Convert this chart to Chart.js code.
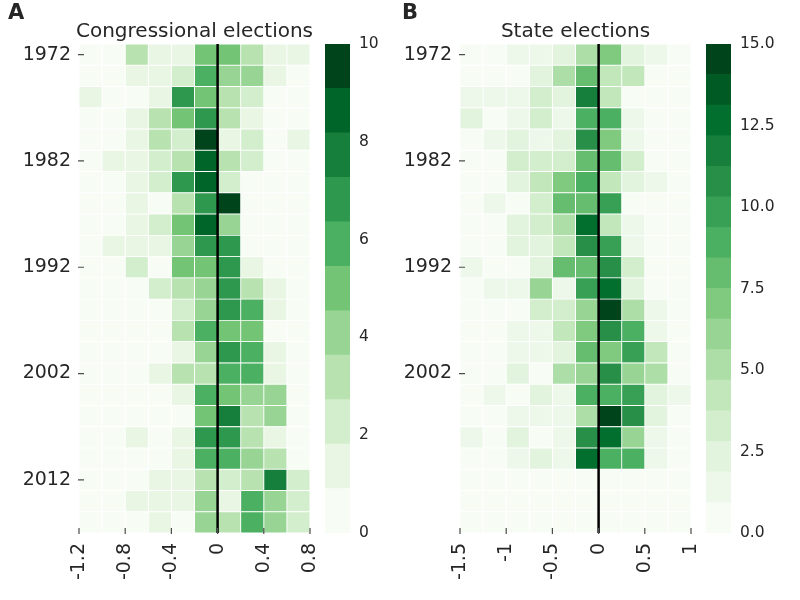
<!DOCTYPE html>
<html>
<head>
<meta charset="utf-8">
<script src="https://cdn.jsdelivr.net/npm/chart.js@4.4.0/dist/chart.umd.min.js"></script>
<style>
  body { margin: 0; background: #fff; }
  #wrap { position: relative; width: 800px; height: 600px; overflow: hidden; }
  #wrap canvas { position: absolute; top: 0; }
</style>
</head>
<body>
<div id="wrap">
  <canvas id="congress" width="320" height="600" style="left:0px"></canvas>
  <canvas id="congress-cb" width="70" height="600" style="left:325px"></canvas>
  <canvas id="state" width="320" height="600" style="left:381px"></canvas>
  <canvas id="state-cb" width="94" height="600" style="left:706px"></canvas>
</div>
<script>
// Rows (years), top to bottom
const years = [1972, 1974, 1976, 1978, 1980, 1982, 1984, 1986, 1988, 1990, 1992, 1994,
  1996, 1998, 2000, 2002, 2004, 2006, 2008, 2010, 2012, 2014, 2016];

// Column bin edges and tick labels
const congressBins = [-1.2, -1.0, -0.8, -0.6, -0.4, -0.2, 0, 0.2, 0.4, 0.6, 0.8];
const congressTicks = [-1.2, -0.8, -0.4, 0, 0.4, 0.8];
const stateBins = [-1.5, -1.25, -1.0, -0.75, -0.5, -0.25, 0, 0.25, 0.5, 0.75, 1.0];
const stateTicks = [-1.5, -1, -0.5, 0, 0.5, 1];

const congressYearTicks = [1972, 1982, 1992, 2002, 2012];
const stateYearTicks = [1972, 1982, 1992, 2002];

// Colour bar ranges and ticks
const congressMax = 10;
const congressBarTicks = [0, 2, 4, 6, 8, 10];
const stateMax = 15;
const stateBarTicks = [0, 2.5, 5, 7.5, 10, 12.5, 15];

// Counts per year, one value per column bin
const congressCounts = [
  [0, 0, 3, 1, 1, 5, 5, 3, 1, 1], // 1972
  [0, 0, 1, 1, 2, 6, 4, 4, 1, 0],
  [1, 0, 0, 1, 7, 5, 3, 2, 0, 0],
  [0, 0, 1, 3, 5, 7, 3, 1, 0, 0],
  [0, 0, 1, 3, 2, 10, 1, 2, 0, 1],
  [0, 1, 1, 2, 3, 9, 3, 2, 0, 0], // 1982
  [0, 0, 1, 2, 7, 9, 2, 0, 0, 0],
  [0, 0, 1, 0, 3, 7, 10, 0, 0, 0],
  [0, 0, 1, 2, 5, 9, 4, 0, 0, 0],
  [0, 1, 1, 1, 4, 7, 7, 0, 0, 0],
  [0, 0, 2, 0, 5, 5, 7, 1, 0, 0], // 1992
  [0, 0, 0, 2, 3, 4, 7, 3, 1, 0],
  [0, 0, 0, 0, 2, 4, 7, 6, 1, 0],
  [0, 0, 0, 0, 3, 6, 5, 5, 0, 0],
  [0, 0, 0, 0, 1, 4, 7, 6, 1, 0],
  [0, 0, 0, 1, 3, 3, 6, 6, 1, 0], // 2002
  [0, 0, 0, 0, 1, 6, 5, 4, 4, 0],
  [0, 0, 0, 0, 0, 5, 8, 3, 4, 0],
  [0, 0, 1, 0, 1, 7, 7, 3, 1, 0],
  [0, 0, 0, 0, 1, 6, 6, 4, 3, 0],
  [0, 0, 0, 1, 1, 3, 2, 3, 8, 2], // 2012
  [0, 0, 1, 1, 1, 4, 1, 6, 4, 2],
  [0, 0, 0, 1, 0, 4, 3, 6, 4, 2],
];

const stateCounts = [
  [0, 0, 1, 1, 2, 5, 7, 2, 1, 0], // 1972
  [0, 0, 0, 2, 5, 8, 4, 4, 0, 0],
  [1, 1, 1, 3, 2, 12, 4, 0, 0, 0],
  [2, 0, 1, 3, 1, 9, 9, 1, 0, 0],
  [0, 1, 2, 1, 2, 11, 7, 1, 0, 0],
  [0, 0, 3, 3, 3, 8, 8, 3, 0, 0], // 1982
  [0, 0, 2, 4, 7, 9, 4, 2, 1, 0],
  [0, 1, 0, 3, 8, 8, 10, 0, 0, 0],
  [0, 0, 2, 3, 5, 13, 4, 1, 0, 0],
  [0, 0, 2, 2, 4, 11, 10, 1, 0, 0],
  [1, 0, 0, 2, 8, 8, 11, 3, 0, 0], // 1992
  [0, 1, 1, 6, 1, 10, 13, 2, 0, 0],
  [0, 0, 0, 3, 3, 6, 15, 5, 1, 0],
  [0, 0, 1, 1, 4, 7, 11, 9, 1, 0],
  [0, 0, 1, 1, 2, 8, 7, 10, 4, 0],
  [0, 0, 2, 0, 5, 6, 11, 6, 5, 0], // 2002
  [0, 1, 0, 2, 1, 9, 9, 10, 2, 1],
  [0, 0, 1, 1, 1, 5, 15, 11, 2, 0],
  [1, 0, 2, 0, 1, 11, 13, 6, 1, 0],
  [0, 0, 1, 2, 1, 13, 9, 9, 1, 0],
  [0, 0, 0, 0, 0, 0, 0, 0, 0, 0], // 2012
  [0, 0, 0, 0, 0, 0, 0, 0, 0, 0],
  [0, 0, 0, 0, 0, 0, 0, 0, 0, 0],
];

const FONT = '"DejaVu Sans", sans-serif';
const TEXT = "#262626";

// matplotlib "Greens" colormap
const greensStops = ["#f7fcf5", "#e5f5e0", "#c7e9c0", "#a1d99b", "#74c476",
  "#41ab5d", "#238b45", "#006d2c", "#00441b"];

function hexToRgb(h) {
  return [1, 3, 5].map((i) => parseInt(h.slice(i, i + 2), 16));
}

function greens(t) {
  const pos = Math.max(0, Math.min(1, t)) * (greensStops.length - 1);
  const i = Math.min(Math.floor(pos), greensStops.length - 2);
  const f = pos - i;
  const a = hexToRgb(greensStops[i]);
  const b = hexToRgb(greensStops[i + 1]);
  const c = a.map((v, k) => Math.round(v + (b[k] - v) * f));
  return `rgb(${c[0]},${c[1]},${c[2]})`;
}

// discrete palette with vmax+1 levels
function levelColor(value, vmax) {
  const n = vmax + 1;
  const level = Math.min(n - 1, Math.floor((value / vmax) * n));
  return greens(level / (n - 1));
}

// zero line, inward ticks, title and panel letter
const heatmapDecor = {
  id: "heatmapDecor",
  afterDatasetsDraw(chart, args, opts) {
    const { ctx, chartArea: a, scales } = chart;
    const x = scales.x;
    const y = scales.y;
    ctx.save();

    ctx.strokeStyle = "#000";
    ctx.lineWidth = 2.5;
    const x0 = x.getPixelForValue(0);
    ctx.beginPath();
    ctx.moveTo(x0, a.top);
    ctx.lineTo(x0, a.bottom);
    ctx.stroke();

    ctx.strokeStyle = "#4d4d4d";
    ctx.lineWidth = 1.2;
    ctx.beginPath();
    opts.xTicks.forEach((v) => {
      const px = x.getPixelForValue(v);
      ctx.moveTo(px, a.bottom + 1);
      ctx.lineTo(px, a.bottom - 5);
    });
    opts.yearTicks.forEach((yr) => {
      const py = y.getPixelForValue(years.indexOf(yr));
      ctx.moveTo(a.left - 1, py);
      ctx.lineTo(a.left + 5, py);
    });
    ctx.stroke();

    ctx.fillStyle = TEXT;
    ctx.textBaseline = "alphabetic";
    ctx.textAlign = "center";
    ctx.font = `20px ${FONT}`;
    ctx.fillText(opts.title, (a.left + a.right) / 2, 37);

    ctx.textAlign = "left";
    ctx.font = `bold 21px ${FONT}`;
    ctx.fillText(opts.letter, opts.letterX, 18.5);
    ctx.restore();
  },
};

function drawHeatmap(canvasId, counts, bins, xTicks, yearTicks, vmax, title, letter, letterX) {
  const datasets = [];
  for (let j = 0; j < bins.length - 1; j++) {
    datasets.push({
      data: years.map(() => [bins[j], bins[j + 1]]),
      backgroundColor: counts.map((row) => levelColor(row[j], vmax)),
      borderColor: "#ffffff",
      borderWidth: 0.8,
      borderSkipped: false,
      grouped: false,
      barPercentage: 1,
      categoryPercentage: 1,
    });
  }

  return new Chart(document.getElementById(canvasId), {
    type: "bar",
    data: { labels: years.map(String), datasets },
    options: {
      indexAxis: "y",
      responsive: false,
      animation: false,
      layout: { padding: { top: 44, right: 10, left: 0, bottom: 0 } },
      plugins: {
        legend: { display: false },
        tooltip: { enabled: false },
        heatmapDecor: { title, letter, letterX, xTicks, yearTicks },
      },
      scales: {
        x: {
          type: "linear",
          min: bins[0],
          max: bins[bins.length - 1],
          afterBuildTicks: (s) => {
            s.ticks = xTicks.map((v) => ({ value: v }));
          },
          afterFit: (s) => {
            s.height = 67;
            s.paddingLeft = 0;
            s.paddingRight = 0;
          },
          grid: { display: false, drawTicks: false, tickLength: 0 },
          border: { display: false },
          ticks: {
            autoSkip: false,
            minRotation: 90,
            maxRotation: 90,
            padding: 10,
            color: TEXT,
            font: { family: FONT, size: 19 },
            callback: (v) => String(v),
          },
        },
        y: {
          type: "category",
          afterFit: (s) => {
            s.width = 79;
            s.paddingTop = 0;
            s.paddingBottom = 0;
          },
          grid: { display: false, drawTicks: false, tickLength: 0 },
          border: { display: false },
          ticks: {
            autoSkip: false,
            padding: 8,
            color: TEXT,
            font: { family: FONT, size: 19 },
            callback: (v, i) => (yearTicks.includes(years[i]) ? String(years[i]) : ""),
          },
        },
      },
    },
    plugins: [heatmapDecor],
  });
}

function drawColorbar(canvasId, vmax, barTicks, fmt, axisWidth) {
  const n = vmax + 1;
  const datasets = [];
  for (let k = 0; k < n; k++) {
    datasets.push({
      data: [[(k * vmax) / n, ((k + 1) * vmax) / n]],
      backgroundColor: greens(k / (n - 1)),
      borderWidth: 0,
      grouped: false,
      barPercentage: 1,
      categoryPercentage: 1,
    });
  }

  return new Chart(document.getElementById(canvasId), {
    type: "bar",
    data: { labels: [""], datasets },
    options: {
      responsive: false,
      animation: false,
      layout: { padding: { top: 44, bottom: 67, left: 0, right: 0 } },
      plugins: { legend: { display: false }, tooltip: { enabled: false } },
      scales: {
        x: { display: false },
        y: {
          position: "right",
          min: 0,
          max: vmax,
          afterBuildTicks: (s) => {
            s.ticks = barTicks.map((v) => ({ value: v }));
          },
          afterFit: (s) => {
            s.width = axisWidth;
            s.paddingTop = 0;
            s.paddingBottom = 0;
          },
          grid: { display: false, drawTicks: false, tickLength: 0 },
          border: { display: false },
          ticks: {
            padding: 9,
            color: TEXT,
            font: { family: FONT, size: 15.5 },
            callback: fmt,
          },
        },
      },
    },
  });
}

drawHeatmap("congress", congressCounts, congressBins, congressTicks, congressYearTicks,
  congressMax, "Congressional elections", "A", 8);
drawColorbar("congress-cb", congressMax, congressBarTicks, (v) => String(v), 45);

drawHeatmap("state", stateCounts, stateBins, stateTicks, stateYearTicks,
  stateMax, "State elections", "B", 21);
drawColorbar("state-cb", stateMax, stateBarTicks, (v) => v.toFixed(1), 69);
</script>
</body>
</html>
